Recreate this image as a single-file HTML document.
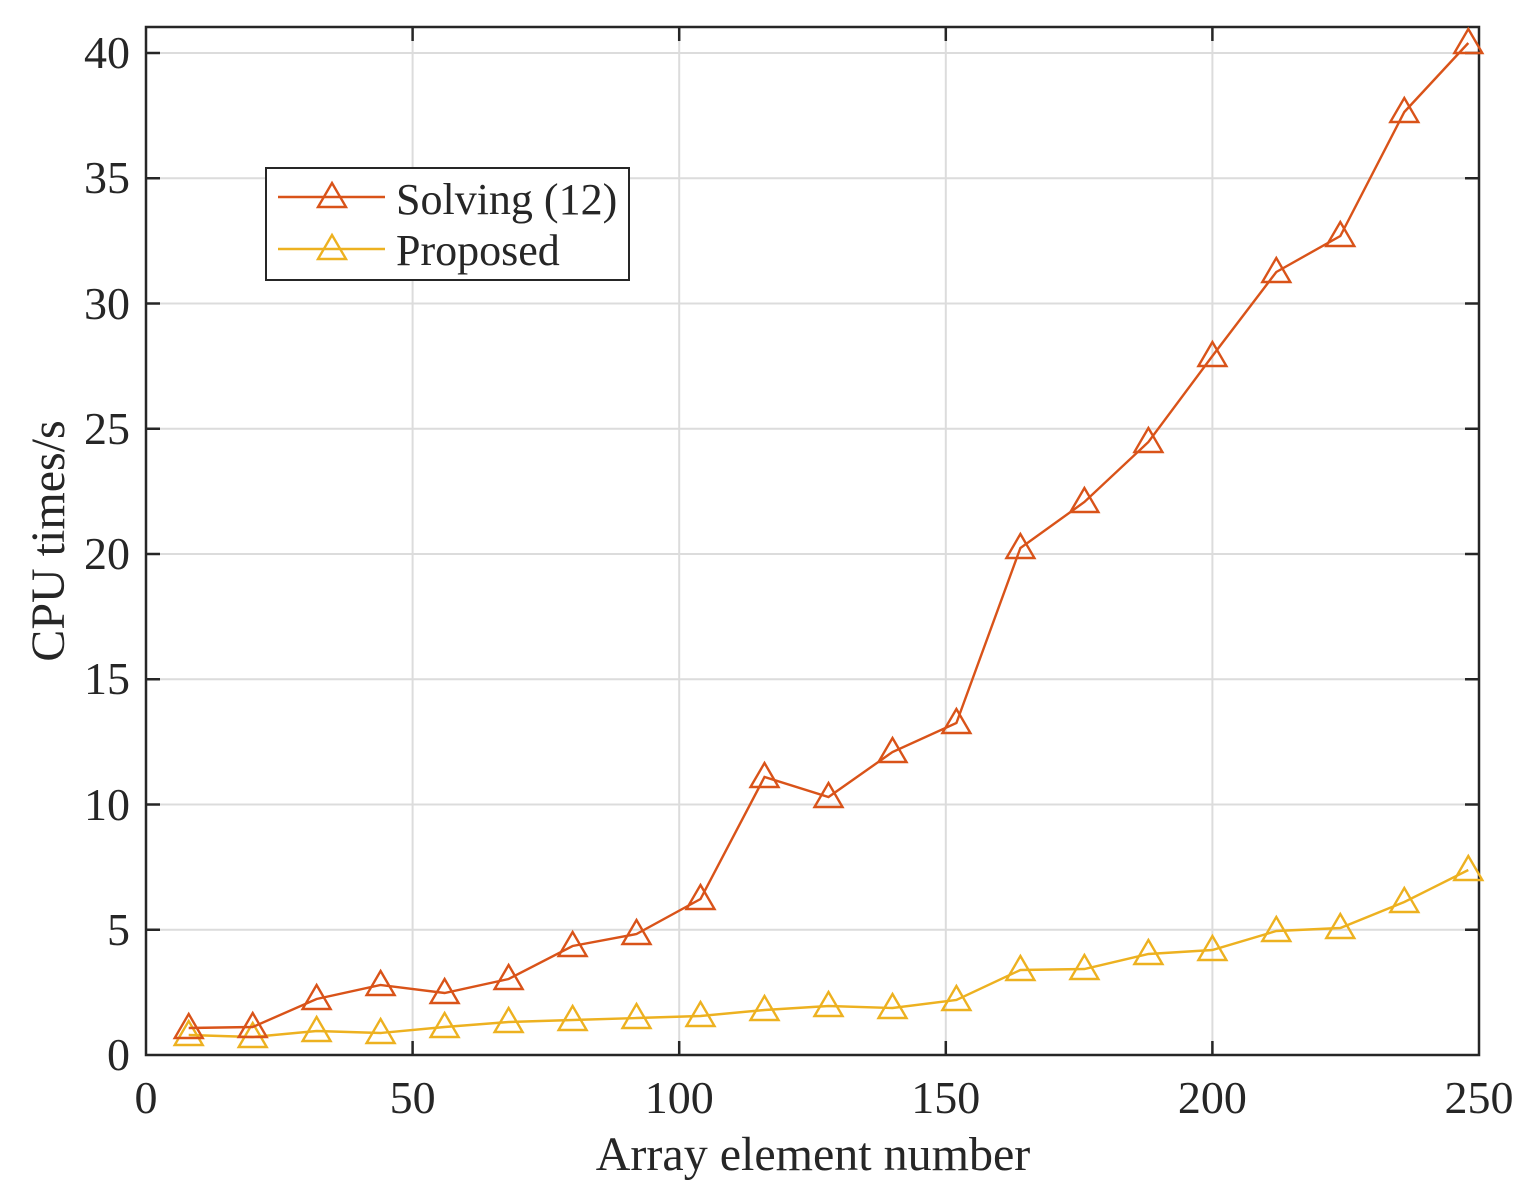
<!DOCTYPE html>
<html><head><style>body{margin:0;background:#fff}svg{display:block}</style></head><body>
<svg width="1536" height="1192" xmlns="http://www.w3.org/2000/svg" font-family="Liberation Serif, serif" fill="#262626">
<rect width="1536" height="1192" fill="#fff"/>
<g stroke="#dcdcdc" stroke-width="2">
<line x1="412.6" y1="27" x2="412.6" y2="1055"/><line x1="679.2" y1="27" x2="679.2" y2="1055"/><line x1="945.8" y1="27" x2="945.8" y2="1055"/><line x1="1212.4" y1="27" x2="1212.4" y2="1055"/>
<line x1="146" y1="929.8" x2="1479" y2="929.8"/><line x1="146" y1="804.5" x2="1479" y2="804.5"/><line x1="146" y1="679.3" x2="1479" y2="679.3"/><line x1="146" y1="554" x2="1479" y2="554"/><line x1="146" y1="428.8" x2="1479" y2="428.8"/><line x1="146" y1="303.5" x2="1479" y2="303.5"/><line x1="146" y1="178.3" x2="1479" y2="178.3"/><line x1="146" y1="53" x2="1479" y2="53"/>
</g>
<g stroke="#262626" stroke-width="2.5">
<rect x="146" y="27" width="1333" height="1028" fill="none"/>
<path d="M412.6 1055v-14M679.2 1055v-14M945.8 1055v-14M1212.4 1055v-14M412.6 27v14M679.2 27v14M945.8 27v14M1212.4 27v14"/>
<path d="M146 929.8h14M146 804.5h14M146 679.3h14M146 554h14M146 428.8h14M146 303.5h14M146 178.3h14M146 53h14M1479 929.8h-14M1479 804.5h-14M1479 679.3h-14M1479 554h-14M1479 428.8h-14M1479 303.5h-14M1479 178.3h-14M1479 53h-14"/>
</g>
<g font-size="46" text-anchor="middle">
<text x="146" y="1113">0</text><text x="412.6" y="1113">50</text><text x="679.2" y="1113">100</text><text x="945.8" y="1113">150</text><text x="1212.4" y="1113">200</text><text x="1479" y="1113">250</text>
</g>
<g font-size="46" text-anchor="end">
<text x="130" y="1070">0</text><text x="130" y="945">5</text><text x="130" y="820">10</text><text x="130" y="694">15</text><text x="130" y="569">20</text><text x="130" y="444">25</text><text x="130" y="319">30</text><text x="130" y="193">35</text><text x="130" y="68">40</text>
</g>
<text x="813" y="1170" font-size="48" text-anchor="middle">Array element number</text>
<text transform="translate(64,541) rotate(-90)" font-size="48" text-anchor="middle">CPU times/s</text>
<defs><path id="t" d="M0 -14L14 10L-14 10Z" fill="none" stroke-width="2.4"/></defs>
<g stroke="#EDB120" stroke-width="2.4" fill="none">
<polyline points="188.7,1035 252.7,1037 316.6,1031 380.6,1033 444.6,1027 508.6,1022 572.6,1020 636.5,1018 700.5,1016 764.5,1010 828.5,1006 892.5,1008 956.4,1000 1020.4,970 1084.4,969 1148.4,954 1212.4,950 1276.3,931 1340.3,928 1404.3,902 1468.3,870"/>
<g><use href="#t" x="188.7" y="1035"/><use href="#t" x="252.7" y="1037"/><use href="#t" x="316.6" y="1031"/><use href="#t" x="380.6" y="1033"/><use href="#t" x="444.6" y="1027"/><use href="#t" x="508.6" y="1022"/><use href="#t" x="572.6" y="1020"/><use href="#t" x="636.5" y="1018"/><use href="#t" x="700.5" y="1016"/><use href="#t" x="764.5" y="1010"/><use href="#t" x="828.5" y="1006"/><use href="#t" x="892.5" y="1008"/><use href="#t" x="956.4" y="1000"/><use href="#t" x="1020.4" y="970"/><use href="#t" x="1084.4" y="969"/><use href="#t" x="1148.4" y="954"/><use href="#t" x="1212.4" y="950"/><use href="#t" x="1276.3" y="931"/><use href="#t" x="1340.3" y="928"/><use href="#t" x="1404.3" y="902"/><use href="#t" x="1468.3" y="870"/></g>
</g>
<g stroke="#D95319" stroke-width="2.4" fill="none">
<polyline points="188.7,1028 252.7,1027 316.6,999 380.6,985 444.6,993 508.6,979 572.6,946 636.5,934 700.5,899 764.5,777 828.5,797 892.5,752 956.4,723 1020.4,548 1084.4,502 1148.4,442 1212.4,356 1276.3,272 1340.3,236 1404.3,112 1468.3,43"/>
<g><use href="#t" x="188.7" y="1028"/><use href="#t" x="252.7" y="1027"/><use href="#t" x="316.6" y="999"/><use href="#t" x="380.6" y="985"/><use href="#t" x="444.6" y="993"/><use href="#t" x="508.6" y="979"/><use href="#t" x="572.6" y="946"/><use href="#t" x="636.5" y="934"/><use href="#t" x="700.5" y="899"/><use href="#t" x="764.5" y="777"/><use href="#t" x="828.5" y="797"/><use href="#t" x="892.5" y="752"/><use href="#t" x="956.4" y="723"/><use href="#t" x="1020.4" y="548"/><use href="#t" x="1084.4" y="502"/><use href="#t" x="1148.4" y="442"/><use href="#t" x="1212.4" y="356"/><use href="#t" x="1276.3" y="272"/><use href="#t" x="1340.3" y="236"/><use href="#t" x="1404.3" y="112"/><use href="#t" x="1468.3" y="43"/></g>
</g>
<rect x="266" y="168" width="363" height="112" fill="#fff" stroke="#262626" stroke-width="2"/>
<g stroke="#D95319" stroke-width="2.4" fill="none"><line x1="278" y1="197" x2="385" y2="197"/><use href="#t" x="332" y="197"/></g>
<g stroke="#EDB120" stroke-width="2.4" fill="none"><line x1="278" y1="249" x2="385" y2="249"/><use href="#t" x="332" y="249"/></g>
<text x="396" y="214" font-size="44">Solving (12)</text>
<text x="396" y="265" font-size="44">Proposed</text>
</svg>
</body></html>
